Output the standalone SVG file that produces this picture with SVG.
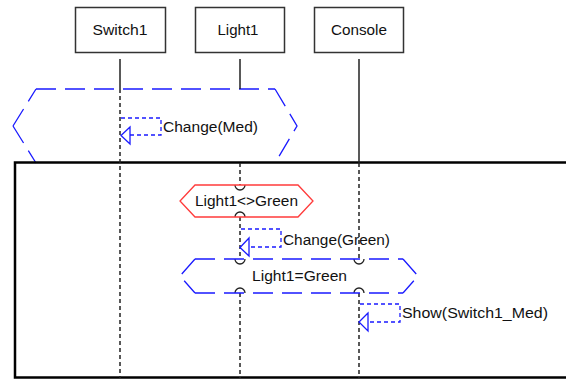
<svg xmlns="http://www.w3.org/2000/svg" width="566" height="379" viewBox="0 0 566 379">
<style>
.box{fill:#fff;stroke:#333;stroke-width:1.5}
.t{font-family:"Liberation Sans",Arial,sans-serif;font-size:14px;fill:#111}
.solid{stroke:#222;stroke-width:1.5;fill:none}
.life{stroke:#222;stroke-width:1.5;stroke-dasharray:4,3;fill:none}
.msg{stroke:#1a1aff;stroke-width:1.3;stroke-dasharray:4,3;fill:none}
.arr{stroke:#1a1aff;stroke-width:1.3;fill:none}
.cond{stroke:#1a1aff;stroke-width:1.3;stroke-dasharray:20,9;fill:none}
.red{stroke:#ff3b3b;stroke-width:1.3;fill:none}
.arc{stroke:#222;stroke-width:1.3;fill:none}
</style>
<rect width="566" height="379" fill="#fff"/>

<g id="ref-Change-Med">
<path class="cond" d="M36,89 H275"/>
<path class="cond" d="M275,89 L297,126 L275,163"/>
<path class="cond" d="M13,126 L36,89"/>
<path class="cond" d="M13,126 L36,163"/>
</g>

<g id="frame">
<rect x="15" y="162.5" width="560" height="215" fill="none" stroke="#000" stroke-width="2.5"/>
</g>

<g id="connectors">
<line class="solid" x1="120" y1="59" x2="120" y2="89"/>
<line class="life" x1="120" y1="89" x2="120" y2="378"/>
<line class="solid" x1="240" y1="59" x2="240" y2="89"/>
<line class="life" x1="240" y1="163" x2="240" y2="185"/>
<line class="life" x1="240" y1="217" x2="240" y2="259"/>
<line class="life" x1="240" y1="293" x2="240" y2="378"/>
<line class="solid" x1="359" y1="59" x2="359" y2="163"/>
<line class="life" x1="359" y1="163" x2="359" y2="259"/>
<line class="life" x1="359" y1="293" x2="359" y2="378"/>
<path class="arc" d="M235,185 A5,5 0 0 0 245,185"/>
<path class="arc" d="M235,217 A5,5 0 0 1 245,217"/>
<path class="arc" d="M235,259 A5,5 0 0 0 245,259"/>
<path class="arc" d="M235,293 A5,5 0 0 1 245,293"/>
<path class="arc" d="M354,259 A5,5 0 0 0 364,259"/>
<path class="arc" d="M354,293 A5,5 0 0 1 364,293"/>
<g id="msg-change-med">
<path class="msg" d="M121,118 H161 V135 H130"/>
<path class="arr" d="M130,127 L121,135.5 L130,144 Z"/>
<text class="t" x="163" y="132" textLength="95" lengthAdjust="spacingAndGlyphs">Change(Med)</text>
</g>
<g id="msg-change-green">
<path class="msg" d="M241,229 H281 V247 H249"/>
<path class="arr" d="M249,238 L240,247.5 L249,256 Z"/>
<text class="t" x="283" y="245" textLength="107" lengthAdjust="spacingAndGlyphs">Change(Green)</text>
</g>
<g id="msg-show">
<path class="msg" d="M360,304 H400 V322 H368"/>
<path class="arr" d="M368,313 L359,322 L368,331 Z"/>
<text class="t" x="402" y="318" textLength="146" lengthAdjust="spacingAndGlyphs">Show(Switch1_Med)</text>
</g>
</g>

<g id="Switch1">
<rect class="box" x="75.5" y="7.5" width="90" height="45"/>
<text class="t" x="120" y="35" text-anchor="middle" textLength="55" lengthAdjust="spacingAndGlyphs">Switch1</text>
</g>
<g id="Light1">
<rect class="box" x="195.5" y="7.5" width="89" height="45"/>
<text class="t" x="238" y="35" text-anchor="middle" textLength="41" lengthAdjust="spacingAndGlyphs">Light1</text>
</g>
<g id="Console">
<rect class="box" x="314.5" y="7.5" width="89" height="45"/>
<text class="t" x="359" y="35" text-anchor="middle" textLength="56" lengthAdjust="spacingAndGlyphs">Console</text>
</g>

<g id="cond-light1-not-green">
<polygon class="red" points="195,185 298,185 313,201 298,217 195,217 180,201"/>
<text class="t" x="246.5" y="206" text-anchor="middle" textLength="103" lengthAdjust="spacingAndGlyphs">Light1&lt;&gt;Green</text>
</g>

<g id="cond-light1-green">
<path class="cond" d="M195,259 H403"/>
<path class="cond" d="M195,293 H403"/>
<path class="cond" d="M195,259 L180,276 L195,293"/>
<path class="cond" d="M403,259 L418,276 L403,293"/>
<text class="t" x="299.5" y="281" text-anchor="middle" textLength="95" lengthAdjust="spacingAndGlyphs">Light1=Green</text>
</g>
</svg>
